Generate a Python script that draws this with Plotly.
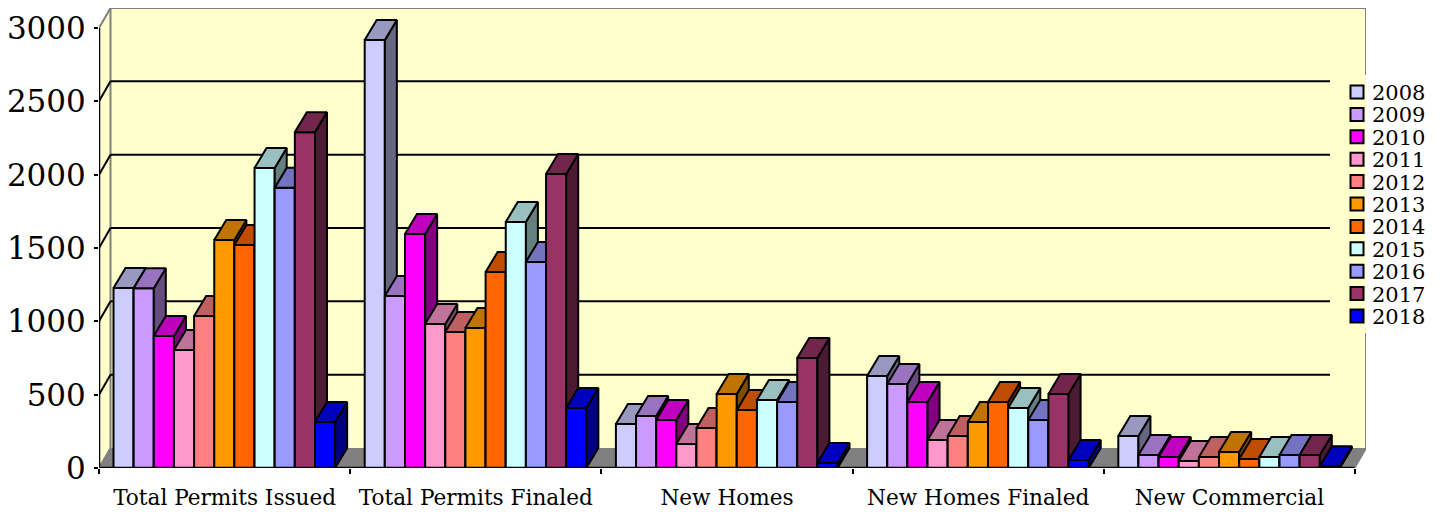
import plotly.graph_objects as go

categories = ["Total Permits Issued", "Total Permits Finaled", "New Homes", "New Homes Finaled", "New Commercial"]
years = ["2008", "2009", "2010", "2011", "2012", "2013", "2014", "2015", "2016", "2017", "2018"]
y2008 = [1227, 2918, 300, 627, 218]
y2009 = [1225, 1173, 355, 573, 89]
y2010 = [900, 1595, 327, 450, 75]
y2011 = [805, 982, 164, 191, 48]
y2012 = [1036, 927, 273, 218, 75]
y2013 = [1555, 955, 505, 314, 109]
y2014 = [1520, 1336, 395, 450, 61]
y2015 = [2045, 1677, 464, 409, 75]
y2016 = [1910, 1405, 450, 327, 89]
y2017 = [2290, 2005, 750, 505, 89]
y2018 = [314, 409, 34, 55, 12]
series = [y2008, y2009, y2010, y2011, y2012, y2013, y2014, y2015, y2016, y2017, y2018]
colors = ["#CCCCFF", "#CC99FF", "#FF00FF", "#FF99CC", "#FF8080", "#FF9900", "#FF6600", "#CCFFFF", "#9999FF", "#993366", "#0000FF"]
y_ticks = [0, 500, 1000, 1500, 2000, 2500, 3000]

# geometry (pixels of the 1443x512 page, converted to axis units)
PX_LEFT, PX_FLOOR, PX_TOP, PX_RIGHT = 99, 468, 8, 1366
PX_PER_CAT = 251.2
PX_PER_UNIT = 440 / 3000


def xd(px):
    return (px - PX_LEFT) / PX_PER_CAT


def yd(py):
    return (PX_FLOOR - py) / PX_PER_UNIT


WALL_DX = 11.5 / PX_PER_CAT
DEPTH_Y = 20 / PX_PER_UNIT
BAR_DX = 12 / PX_PER_CAT
BAR_W = 20.15 / PX_PER_CAT
BAR_START = 14.5 / PX_PER_CAT
LW = 2
INK = "#000000"
WALL_EDGE = "#808080"
X_MAX = xd(PX_RIGHT)
X_FRONT_END = X_MAX - WALL_DX
Y_MAX = 3000 + DEPTH_Y


def shade(hex_color, k):
    r, g, b = (int(hex_color[i:i + 2], 16) for i in (1, 3, 5))
    return f"rgb({round(r * k)},{round(g * k)},{round(b * k)})"


def poly(points):
    return "M" + " L".join(f"{x},{y}" for x, y in points) + " Z"


shapes = []
# left wall, back wall, floor
shapes.append(dict(type="path", layer="below", xref="x", yref="y", fillcolor="#FFFFCC", line=dict(width=0),
                   path=poly([(WALL_DX, DEPTH_Y), (X_MAX, DEPTH_Y), (X_MAX, Y_MAX), (WALL_DX, Y_MAX)])))
shapes.append(dict(type="path", layer="below", xref="x", yref="y", fillcolor="#FFFFCC", line=dict(width=0),
                   path=poly([(0, 0), (WALL_DX, DEPTH_Y), (WALL_DX, Y_MAX), (0, 3000)])))
shapes.append(dict(type="path", layer="below", xref="x", yref="y", fillcolor="#808080", line=dict(width=0),
                   path=poly([(0, 0), (WALL_DX, DEPTH_Y), (X_MAX, DEPTH_Y), (X_FRONT_END, 0)])))


def seg(x0, y0, x1, y1, color, layer="below"):
    shapes.append(dict(type="line", layer=layer, xref="x", yref="y", x0=x0, y0=y0, x1=x1, y1=y1,
                       line=dict(color=color, width=LW)))


# wall edges
seg(0, 3000, WALL_DX, Y_MAX, WALL_EDGE)
seg(WALL_DX, Y_MAX, X_MAX, Y_MAX, WALL_EDGE)
seg(WALL_DX, DEPTH_Y, WALL_DX, Y_MAX, WALL_EDGE)
seg(X_MAX, Y_MAX, X_MAX, yd(75), WALL_EDGE)
seg(X_MAX, yd(333), X_MAX, DEPTH_Y, WALL_EDGE)
seg(X_FRONT_END, 0, X_MAX, DEPTH_Y, WALL_EDGE)
seg(0, 0, WALL_DX, DEPTH_Y, WALL_EDGE)
# gridlines
for v in y_ticks[1:-1]:
    seg(0, v, WALL_DX, v + DEPTH_Y, INK)
    seg(WALL_DX, v + DEPTH_Y, xd(1330), v + DEPTH_Y, INK)

fig = go.Figure()
layout_axes = {}
for i, (year, vals, col) in enumerate(zip(years, series, colors)):
    ax = "" if i == 0 else str(i + 1)
    xname, yname = "x" + ax, "y" + ax
    if i > 0:
        layout_axes["xaxis" + ax] = dict(overlaying="x", range=[0, X_MAX], visible=False, anchor=yname)
        layout_axes["yaxis" + ax] = dict(overlaying="y", range=[0, Y_MAX], visible=False, anchor=xname)
    lefts = [g + BAR_START + i * BAR_W for g in range(len(vals))]
    sx, sy, tx, ty = [], [], [], []
    for x, v in zip(lefts, vals):
        r = x + BAR_W
        sx += [r, r + BAR_DX, r + BAR_DX, r, r, None]
        sy += [0, DEPTH_Y, v + DEPTH_Y, v, 0, None]
        tx += [x, x + BAR_DX, r + BAR_DX, r, x, None]
        ty += [v, v + DEPTH_Y, v + DEPTH_Y, v, v, None]
    for px_, py_, k in ((sx, sy, 0.5), (tx, ty, 0.75)):
        fig.add_trace(go.Scatter(x=px_, y=py_, mode="lines", fill="toself", fillcolor=shade(col, k),
                                 line=dict(color=INK, width=LW), showlegend=False, hoverinfo="skip",
                                 xaxis=xname, yaxis=yname))
    fig.add_trace(go.Bar(x=[x + BAR_W / 2 for x in lefts], y=vals, width=BAR_W, name=year,
                         marker=dict(color=col, line=dict(color=INK, width=LW)), showlegend=False,
                         xaxis=xname, yaxis=yname))

# legend, spaced like the original
annotations = []
for i, (year, col) in enumerate(zip(years, colors)):
    cy = 92 + 22.4 * i
    shapes.append(dict(type="rect", layer="above", xref="x", yref="y",
                       x0=xd(1350.5), x1=xd(1363.5), y0=yd(cy - 6.5), y1=yd(cy + 6.5),
                       fillcolor=col, line=dict(color=INK, width=LW)))
    annotations.append(dict(x=(1372 - PX_LEFT) / (PX_RIGHT - PX_LEFT), y=(PX_FLOOR - cy - 1) / (PX_FLOOR - PX_TOP),
                            xref="paper", yref="paper", text=year, showarrow=False,
                            xanchor="left", yanchor="middle", xshift=-1, borderpad=0,
                            font=dict(family="DejaVu Serif", size=21, color=INK)))

fig.update_layout(
    width=1443, height=512, margin=dict(l=PX_LEFT, r=1443 - PX_RIGHT, t=PX_TOP, b=512 - PX_FLOOR),
    paper_bgcolor="white", plot_bgcolor="rgba(0,0,0,0)", showlegend=False, barmode="overlay",
    shapes=shapes, annotations=annotations,
    xaxis=dict(range=[0, X_MAX], showgrid=False, zeroline=False, automargin=False, tickmode="array",
               tickvals=[g + 0.5 for g in range(len(categories))], ticktext=categories, ticks="", ticklabelstandoff=14,
               tickfont=dict(family="DejaVu Serif", size=21.6, color=INK),
               minor=dict(tickmode="array", tickvals=list(range(len(categories) + 1)), ticks="outside",
                          ticklen=5, tickwidth=LW, tickcolor=INK, showgrid=False)),
    yaxis=dict(range=[0, Y_MAX], showgrid=False, zeroline=False, automargin=False, tickmode="array", tickvals=y_ticks,
               ticks="outside", ticklen=4, tickwidth=LW, tickcolor=INK, ticklabelstandoff=2,
               tickfont=dict(family="DejaVu Serif", size=31, color=INK)),
    **layout_axes,
)
# axis lines drawn above everything, from the front edge
shapes_axes = [dict(type="line", layer="above", xref="x", yref="y", x0=0, y0=0, x1=X_FRONT_END, y1=0, line=dict(color=INK, width=LW + 0.5)),
               dict(type="line", layer="above", xref="x", yref="y", x0=0, y0=0, x1=0, y1=3000, line=dict(color=INK, width=LW + 0.5))]
fig.update_layout(shapes=list(fig.layout.shapes) + shapes_axes)
fig.write_html("out.html", config=dict(displayModeBar=False),
               post_script="document.body.style.margin='0';document.documentElement.style.overflow='hidden';")
